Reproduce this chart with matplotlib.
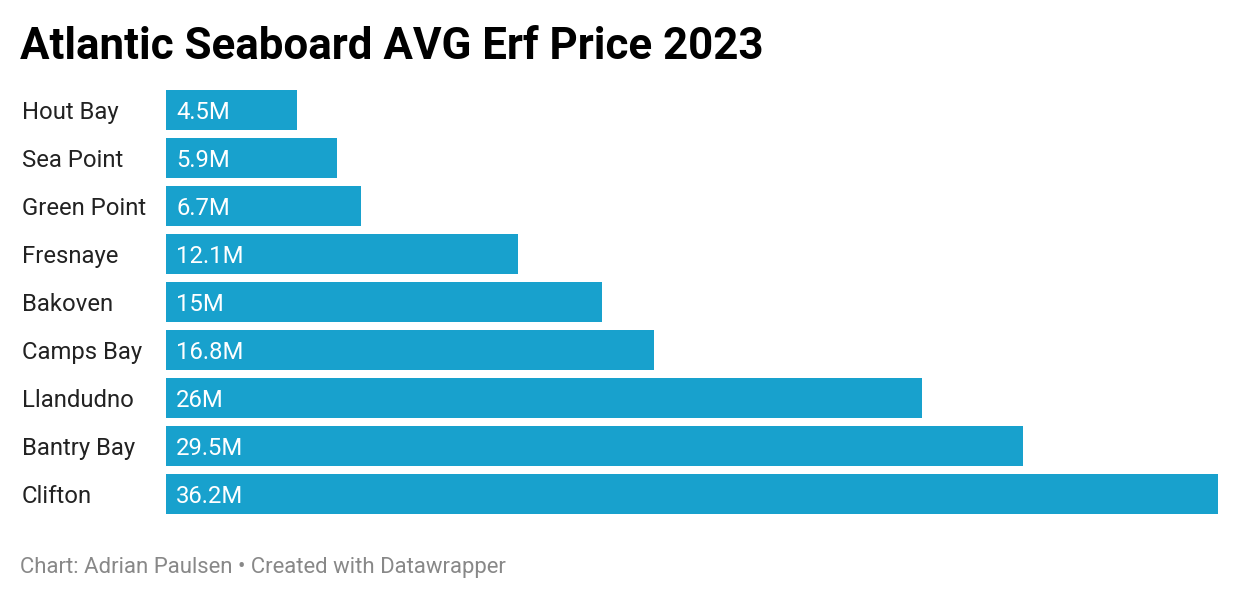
import matplotlib.pyplot as plt

plt.rcParams['font.family'] = ['Roboto', 'DejaVu Sans']

areas = ['Hout Bay', 'Sea Point', 'Green Point', 'Fresnaye', 'Bakoven',
         'Camps Bay', 'Llandudno', 'Bantry Bay', 'Clifton']
prices = [4.5, 5.9, 6.7, 12.1, 15, 16.8, 26, 29.5, 36.2]
price_labels = ['4.5M', '5.9M', '6.7M', '12.1M', '15M', '16.8M', '26M', '29.5M', '36.2M']

W, H = 1240, 600
fig = plt.figure(figsize=(W / 100, H / 100), dpi=100)
# Bars run from x=166 to x=1218, y=90 to y=514 in pixels.
ax = fig.add_axes([166 / W, (H - 514) / H, 1052 / W, 424 / H])

bar_h = 40 / 48
pos = list(range(len(areas)))
ax.barh(pos, prices, height=bar_h, color='#18a1cd')
ax.set_xlim(0, max(prices))
ax.set_ylim(len(areas) - 1 + bar_h / 2, -bar_h / 2)
ax.axis('off')

for i, (name, lab) in enumerate(zip(areas, price_labels)):
    ax.annotate(lab, xy=(0, i), xytext=(10 * 0.72, 0), textcoords='offset points',
                color='white', fontsize=17.2, va='center_baseline', ha='left')
    ax.annotate(name, xy=(0, i), xycoords=('figure fraction', 'data'),
                xytext=(22 * 0.72, 0), textcoords='offset points',
                fontsize=17.2, color='#222222', va='center_baseline', ha='left')

fig.text(20 / W, 1 - 47 / H, 'Atlantic Seaboard AVG Erf Price 2023',
         fontsize=31.6, fontweight='bold', color='black', va='center', ha='left')
fig.text(20 / W, 1 - 567 / H, 'Chart: Adrian Paulsen \u2022 Created with Datawrapper',
         fontsize=15.9, color='#888888', va='center', ha='left')

fig.savefig('out.png', dpi=100, facecolor='white')
